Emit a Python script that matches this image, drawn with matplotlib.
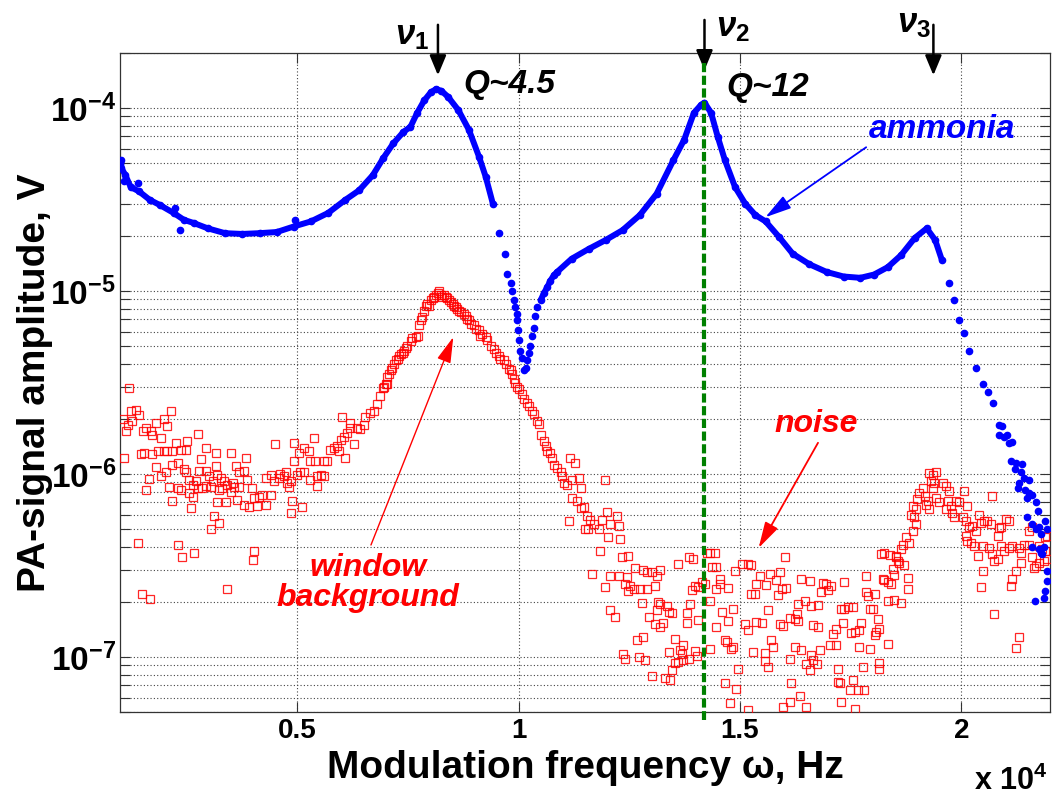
import numpy as np
import matplotlib.pyplot as plt
from matplotlib.ticker import LogLocator, NullFormatter, NullLocator

plt.rcParams["font.family"] = ["Liberation Sans", "DejaVu Sans"]
plt.rcParams["font.weight"] = "bold"
plt.rcParams["mathtext.fontset"] = "custom"
plt.rcParams["mathtext.rm"] = "Liberation Sans:bold"
plt.rcParams["mathtext.it"] = "Liberation Sans:italic:bold"
plt.rcParams["mathtext.bf"] = "Liberation Sans:bold"

# ammonia signal (Hz, V)
ammonia = [
    (1030, 5.2e-5), (1030, 4.7e-5), (1120, 4.3e-5), (1240, 3.7e-5), (1430, 3.5e-5),
    (1670, 3.15e-5), (1900, 2.95e-5), (2210, 2.67e-5), (2440, 2.45e-5), (2670, 2.35e-5),
    (2980, 2.2e-5), (3370, 2.07e-5), (3760, 2.05e-5), (4150, 2.07e-5), (4540, 2.1e-5),
    (4920, 2.25e-5), (5310, 2.4e-5), (5700, 2.67e-5), (6090, 3.15e-5), (6400, 3.55e-5),
    (6710, 4.3e-5), (6940, 5.3e-5), (7170, 6.4e-5), (7400, 7.4e-5), (7560, 7.9e-5),
    (7710, 9.4e-5), (7870, 1.1e-4), (8020, 1.22e-4), (8140, 1.27e-4), (8260, 1.24e-4),
    (8410, 1.15e-4), (8640, 9.75e-5), (8880, 7.6e-5), (9110, 5.4e-5), (9260, 4.2e-5),
    (9420, 3.0e-5), (9570, 2.07e-5), (9690, 1.6e-5), (9740, 1.24e-5), (9820, 1.1e-5),
    (9860, 1.0e-5), (9900, 8.9e-6), (9930, 8.2e-6), (9960, 7.5e-6), (9970, 6.9e-6),
    (9990, 6.1e-6), (10010, 5.4e-6), (10040, 4.7e-6), (10080, 4.3e-6), (10120, 3.7e-6),
    (10160, 3.8e-6), (10200, 4.2e-6), (10230, 4.6e-6), (10270, 5.0e-6), (10310, 5.7e-6),
    (10350, 6.3e-6), (10380, 7.3e-6), (10420, 8.2e-6), (10500, 8.9e-6), (10570, 9.7e-6),
    (10650, 1.05e-5), (10720, 1.14e-5), (10800, 1.22e-5), (10870, 1.27e-5), (11200, 1.5e-5),
    (11590, 1.7e-5), (11970, 1.9e-5), (12350, 2.15e-5), (12740, 2.6e-5), (13120, 3.4e-5),
    (13500, 5.2e-5), (13740, 6.7e-5), (13960, 9.4e-5), (14120, 1.04e-4), (14200, 1.07e-4),
    (14350, 9.4e-5), (14500, 6.95e-5), (14660, 5.2e-5), (14890, 3.7e-5), (15120, 3.0e-5),
    (15350, 2.6e-5), (15580, 2.4e-5), (15880, 1.98e-5), (16190, 1.6e-5), (16570, 1.4e-5),
    (16960, 1.27e-5), (17340, 1.2e-5), (17720, 1.18e-5), (18030, 1.23e-5), (18340, 1.35e-5),
    (18640, 1.57e-5), (18950, 1.95e-5), (19220, 2.2e-5), (19410, 1.9e-5), (19560, 1.48e-5),
    (19720, 1.1e-5), (19830, 8.9e-6), (19950, 6.9e-6), (20060, 5.9e-6), (20180, 4.7e-6),
    (20330, 3.8e-6), (20480, 3.1e-6), (20600, 2.8e-6), (20710, 2.45e-6), (20850, 1.85e-6),
    (20930, 1.84e-6), (20850, 1.64e-6), (20970, 1.6e-6), (21040, 1.64e-6), (21080, 1.47e-6),
    (21150, 1.49e-6), (21120, 1.18e-6), (21230, 1.15e-6), (21360, 1.13e-6), (21210, 1.06e-6),
    (21340, 1.03e-6), (21420, 9.5e-7), (21300, 8.9e-7), (21530, 9.3e-7), (21270, 8.4e-7),
    (21450, 8.2e-7), (21530, 7.9e-7), (21490, 7.4e-7), (21600, 7.7e-7), (21680, 7.0e-7),
    (21740, 6.3e-7), (21490, 5.8e-7), (21600, 5.3e-7), (21900, 5.5e-7), (21750, 5.1e-7),
    (21680, 5.0e-7), (21790, 4.7e-7), (21940, 5.0e-7), (21600, 4.0e-7), (21750, 3.9e-7),
    (21870, 4.0e-7), (21790, 3.7e-7), (21830, 3.65e-7), (21940, 2.96e-7), (21940, 2.6e-7),
    (21900, 2.3e-7), (21870, 2.1e-7), (21660, 2.03e-7),
]
# stray ammonia points off the band
ammonia_stray = [(1085, 4.0e-5), (1395, 3.9e-5), (2250, 2.84e-5), (2360, 2.15e-5), (4960, 2.45e-5)]

# window background / noise (Hz, V)
bg_low = [
    (1210, 2.95e-6), (1060, 2.0e-6), (1130, 1.71e-6), (1170, 1.86e-6), (1250, 2.2e-6),
    (1280, 1.94e-6), (1360, 2.25e-6), (1430, 2.1e-6), (1100, 1.22e-6), (1510, 1.71e-6),
    (1580, 1.78e-6), (1700, 1.71e-6), (1730, 1.64e-6), (1810, 1.9e-6), (1920, 1.57e-6),
    (2000, 2.0e-6), (2070, 1.82e-6), (2150, 2.2e-6), (1470, 1.28e-6), (1550, 1.3e-6),
    (1730, 1.28e-6), (1850, 1.33e-6), (2000, 1.34e-6), (2070, 1.34e-6), (2180, 1.34e-6),
    (2260, 1.48e-6), (2370, 1.35e-6), (2480, 1.36e-6), (2520, 1.52e-6), (2750, 1.66e-6),
    (2940, 1.39e-6), (3160, 1.31e-6), (3500, 1.31e-6), (2820, 1.21e-6), (1810, 1.09e-6),
    (1920, 9.7e-7), (2030, 1.03e-6), (2180, 1.12e-6), (2300, 1.15e-6), (2450, 1.07e-6),
    (2480, 1.02e-6), (2560, 9.3e-7), (2640, 8.7e-7), (2710, 9.1e-7), (2790, 1.04e-6),
    (2940, 1.04e-6), (3010, 9.7e-7), (3090, 9.1e-7), (3160, 1.1e-6), (3200, 9.9e-7),
    (3270, 9.5e-7), (3350, 9.1e-7), (3420, 8.7e-7), (3540, 8.9e-7), (3610, 1.1e-6),
    (3690, 1.03e-6), (3800, 1.04e-6), (3840, 1.23e-6), (3870, 9.3e-7), (3990, 8.4e-7),
    (1660, 9.4e-7), (1580, 8.2e-7), (2110, 8.5e-7), (2300, 8.4e-7), (2370, 8.2e-7),
    (2560, 7.9e-7), (2640, 7.5e-7), (2750, 8.4e-7), (2860, 8.4e-7), (2940, 8.6e-7),
    (3050, 8.5e-7), (3240, 8.2e-7), (3310, 8.4e-7), (3500, 8.0e-7), (3570, 8.5e-7),
    (3690, 8.5e-7), (2180, 7.1e-7), (2600, 6.5e-7), (3200, 7.0e-7), (3390, 7.0e-7),
    (3650, 7.2e-7), (3800, 6.8e-7), (3910, 6.6e-7), (4020, 7.4e-7), (4100, 6.7e-7),
    (4140, 7.5e-7), (4210, 7.7e-7), (4290, 6.8e-7), (4290, 9.5e-7), (4400, 7.7e-7),
    (4400, 9.9e-7), (4470, 9.1e-7), (4590, 9.5e-7), (4620, 1.0e-6), (4700, 9.7e-7),
    (4740, 1.03e-6), (4770, 8.9e-7), (4810, 8.5e-7), (4850, 9.1e-7), (4890, 7.1e-7),
    (4850, 6.1e-7), (5110, 6.6e-7), (4930, 1.17e-6), (5040, 1.3e-6), (5150, 1.39e-6),
    (5260, 1.33e-6), (5300, 1.17e-6), (5410, 1.17e-6), (5380, 1.57e-6), (4510, 1.46e-6),
    (4930, 1.48e-6), (5000, 9.9e-7), (5070, 1.03e-6), (5150, 1.02e-6), (5300, 9.3e-7),
    (5450, 9.7e-7), (5530, 9.9e-7), (5600, 9.7e-7), (5450, 8.6e-7), (5600, 1.17e-6),
    (5680, 1.17e-6), (5750, 1.36e-6), (5830, 1.39e-6), (5900, 1.42e-6), (5940, 1.33e-6),
    (5980, 1.54e-6), (6050, 1.6e-6), (6090, 1.22e-6), (6130, 1.67e-6), (6200, 1.78e-6),
    (6280, 1.45e-6), (6350, 1.78e-6), (6430, 1.75e-6), (6500, 1.86e-6), (6540, 2.06e-6),
    (6650, 2.15e-6), (6730, 2.2e-6), (6800, 2.4e-6), (6880, 2.66e-6), (6950, 2.95e-6),
    (7030, 3.1e-6), (6010, 2.04e-6), (6200, 1.9e-6),
    (3120, 5.9e-7), (3240, 5.4e-7), (3050, 5.0e-7), (1410, 4.2e-7), (2320, 4.1e-7),
    (2410, 3.5e-7), (2660, 3.7e-7), (4020, 3.8e-7), (4010, 3.4e-7), (1490, 2.2e-7),
    (1670, 2.06e-7), (3420, 2.35e-7),
]
bg_peak = [
    (6970, 2.97e-6), (7000, 3.1e-6), (7040, 3.4e-6), (7080, 3.5e-6), (7120, 3.7e-6),
    (7150, 3.8e-6), (7190, 4.0e-6), (7230, 4.2e-6), (7270, 4.25e-6), (7300, 4.4e-6),
    (7340, 4.5e-6), (7380, 4.6e-6), (7420, 4.7e-6), (7450, 4.9e-6), (7490, 5.0e-6),
    (7570, 5.3e-6), (7600, 5.5e-6), (7680, 5.6e-6), (7720, 5.7e-6), (7750, 6.5e-6),
    (7790, 6.9e-6), (7830, 7.2e-6), (7870, 7.8e-6), (7910, 8.3e-6), (7940, 8.5e-6),
    (7980, 8.3e-6), (8020, 8.9e-6), (8060, 9.1e-6), (8090, 9.3e-6), (8130, 9.5e-6),
    (8170, 9.7e-6), (8210, 1.0e-5), (8240, 9.5e-6), (8280, 9.3e-6), (8320, 9.5e-6),
    (8360, 9.3e-6), (8390, 9.1e-6), (8430, 8.9e-6), (8470, 8.7e-6), (8510, 8.5e-6),
    (8540, 8.3e-6), (8580, 8.2e-6), (8620, 8.0e-6), (8660, 7.8e-6), (8690, 7.7e-6),
    (8770, 7.5e-6), (8810, 7.3e-6), (8840, 7.0e-6), (8880, 6.9e-6), (8920, 6.6e-6),
    (8990, 6.5e-6), (9030, 6.2e-6), (9110, 6.1e-6), (9140, 5.7e-6), (9180, 5.8e-6),
    (9260, 5.6e-6), (9290, 5.4e-6), (9370, 5.0e-6), (9440, 4.8e-6), (9480, 4.6e-6),
    (9560, 4.4e-6), (9590, 4.25e-6), (9670, 4.2e-6), (9710, 4.0e-6), (9780, 3.75e-6),
    (9820, 3.7e-6), (9860, 3.5e-6), (9900, 3.3e-6), (9930, 3.15e-6), (9970, 2.97e-6),
    (10010, 2.9e-6), (10080, 2.73e-6), (10120, 2.56e-6), (10200, 2.45e-6), (10230, 2.35e-6),
    (10310, 2.21e-6), (10350, 2.12e-6), (10420, 1.95e-6), (10460, 1.87e-6), (10500, 1.64e-6),
    (10570, 1.51e-6), (10610, 1.42e-6), (10650, 1.33e-6), (10720, 1.3e-6), (10760, 1.22e-6),
    (10800, 1.12e-6), (10870, 1.08e-6), (10950, 1.03e-6), (10980, 9.7e-7), (11020, 8.9e-7),
    (11100, 8.7e-7), (11170, 1.22e-6), (11280, 1.15e-6), (11210, 9.3e-7), (11360, 9.5e-7),
    (11400, 8.4e-7), (11210, 7.4e-7), (11320, 7.1e-7), (11400, 6.5e-7), (11470, 6.6e-7),
    (11550, 5.9e-7), (11620, 5.6e-7), (11700, 5.3e-7), (11510, 5.0e-7), (11580, 5.0e-7),
    (11810, 5.0e-7), (11880, 5.6e-7), (12000, 6.2e-7), (12220, 5.9e-7), (12260, 5.2e-7),
    (12070, 5.3e-7), (12030, 4.5e-7), (12300, 4.4e-7), (11960, 9.3e-7), (11130, 5.5e-7),
    (11850, 3.8e-7), (12330, 3.5e-7), (12480, 3.55e-7),
]
noise_mid = [
    (11660, 2.84e-7), (12070, 2.78e-7), (12260, 2.78e-7), (12450, 2.72e-7), (12640, 3.06e-7),
    (12820, 3.0e-7), (12900, 2.9e-7), (13010, 2.9e-7), (13200, 3.0e-7), (13120, 2.78e-7),
    (13610, 3.24e-7), (13840, 3.52e-7), (13950, 3.43e-7), (14250, 3.7e-7), (14320, 3.7e-7),
    (14440, 3.7e-7), (14360, 3.11e-7), (14470, 3.11e-7), (14550, 2.67e-7), (14890, 2.96e-7),
    (15040, 3.24e-7), (15190, 3.2e-7), (15260, 3.18e-7), (15450, 2.78e-7), (15670, 2.84e-7),
    (15900, 2.9e-7), (15820, 2.63e-7), (16010, 3.5e-7), (16390, 2.67e-7), (16580, 2.61e-7),
    (16880, 2.52e-7), (16950, 2.5e-7), (17060, 2.45e-7), (11960, 2.4e-7), (12410, 2.5e-7),
    (12520, 2.45e-7), (12480, 2.3e-7), (12600, 2.35e-7), (12750, 2.35e-7), (12900, 2.35e-7),
    (13090, 2.45e-7), (13910, 2.32e-7), (13990, 2.45e-7), (14060, 2.4e-7), (14140, 2.56e-7),
    (14210, 2.5e-7), (14470, 2.35e-7), (14550, 2.5e-7), (14740, 2.37e-7), (15260, 2.2e-7),
    (15340, 2.2e-7), (15370, 2.5e-7), (15600, 2.48e-7), (15860, 2.19e-7), (15940, 2.35e-7),
    (16050, 2.37e-7), (16840, 2.25e-7), (16990, 2.32e-7), (12070, 1.81e-7), (12190, 1.66e-7),
    (12780, 1.96e-7), (13160, 2.0e-7), (13200, 1.95e-7), (13350, 1.91e-7), (13390, 1.76e-7),
    (13120, 1.8e-7), (13460, 1.73e-7), (13800, 1.73e-7), (13870, 1.95e-7), (14320, 2.03e-7),
    (14590, 1.76e-7), (14850, 1.82e-7), (15640, 1.8e-7), (16310, 1.95e-7), (16460, 2.03e-7),
    (16610, 1.91e-7), (16760, 1.93e-7), (16280, 1.71e-7), (16310, 1.58e-7), (16130, 1.64e-7),
    (12940, 1.65e-7), (13090, 1.52e-7), (13200, 1.46e-7), (13270, 1.53e-7), (13800, 1.53e-7),
    (14060, 1.6e-7), (14470, 1.46e-7), (14740, 1.58e-7), (15110, 1.51e-7), (15190, 1.4e-7),
    (15370, 1.55e-7), (15490, 1.53e-7), (15900, 1.52e-7), (15970, 1.47e-7), (16240, 1.61e-7),
    (16650, 1.49e-7), (16760, 1.46e-7), (17100, 1.34e-7), (17180, 1.43e-7), (12670, 1.24e-7),
    (12820, 1.29e-7), (13540, 1.26e-7), (13720, 1.16e-7), (14660, 1.24e-7), (14700, 1.21e-7),
    (14810, 1.11e-7), (14850, 1.13e-7), (14320, 1.11e-7), (15710, 1.24e-7), (15750, 1.14e-7),
    (15300, 1.06e-7), (15560, 1.05e-7), (16240, 1.13e-7), (16390, 1.09e-7), (16800, 1.09e-7),
    (17030, 1.16e-7), (17180, 1.16e-7), (12370, 1.04e-7), (12410, 9.8e-8), (12710, 1.0e-7),
    (12860, 9.6e-8), (13390, 1.06e-7), (13650, 1.09e-7), (13690, 1.04e-7), (13720, 9.6e-8),
    (13840, 9.8e-8), (13990, 1.08e-7), (14020, 1.01e-7), (13610, 9.4e-8), (13540, 9.3e-8),
    (15560, 9.5e-8), (15640, 8.8e-8), (16140, 9.8e-8), (16500, 9.2e-8), (16610, 1.03e-7),
    (16650, 9.6e-8), (16730, 9.1e-8), (17210, 8.6e-8), (13460, 8.5e-8), (13010, 7.9e-8),
    (13310, 7.7e-8), (13420, 7.5e-8), (14960, 8.6e-8), (14660, 7.2e-8), (14920, 6.7e-8),
    (16580, 8.5e-8), (16160, 7.2e-8), (17210, 7.3e-8), (14770, 5.6e-8), (15190, 5.1e-8),
    (15970, 5.3e-8), (16130, 5.7e-8), (16350, 6.1e-8), (16500, 5.3e-8),
]
noise_high = [
    (17360, 2.56e-7), (17290, 1.83e-7), (17360, 1.83e-7), (17440, 1.87e-7), (17550, 1.87e-7),
    (17930, 1.83e-7), (18000, 1.83e-7), (17330, 1.53e-7), (17510, 1.35e-7), (17590, 1.37e-7),
    (17700, 1.4e-7), (17740, 1.53e-7), (17700, 1.14e-7), (17930, 1.1e-7), (18110, 1.62e-7),
    (18150, 1.43e-7), (18040, 1.31e-7), (18080, 1.37e-7), (18340, 1.18e-7), (18150, 9.3e-8),
    (18150, 8.6e-8), (17780, 8.8e-8), (17250, 7.2e-8), (17480, 6.6e-8), (17550, 7.5e-8),
    (17660, 6.6e-8), (17810, 6.6e-8), (17290, 5.7e-8), (17610, 5.2e-8), (17850, 2.78e-7),
    (17850, 2.25e-7), (17890, 2.16e-7), (18040, 2.21e-7), (18230, 2.67e-7), (18260, 2.63e-7),
    (18340, 2.56e-7), (18410, 2.5e-7), (18490, 2.81e-7), (18450, 3.02e-7), (18530, 3.5e-7),
    (18560, 3.35e-7), (18600, 3.28e-7), (18710, 3.19e-7), (18790, 2.7e-7), (18790, 2.35e-7),
    (18340, 2.03e-7), (18490, 2.05e-7), (18640, 1.96e-7), (18190, 3.65e-7), (18260, 3.72e-7),
    (18380, 3.6e-7), (18530, 3.57e-7), (18640, 3.88e-7), (18680, 4.1e-7), (18750, 4.5e-7),
    (18830, 4.2e-7), (18900, 4.9e-7), (18980, 5.3e-7), (18940, 5.8e-7), (18860, 6.0e-7),
    (18900, 6.7e-7), (18980, 6.4e-7), (19010, 7.3e-7), (19050, 7.9e-7), (19130, 8.4e-7),
    (19170, 7.6e-7), (19200, 6.8e-7), (19240, 7.1e-7), (19280, 6.4e-7), (19280, 1.01e-6),
    (19320, 9.2e-7), (19350, 9.9e-7), (19350, 8.4e-7), (19390, 8.9e-7), (19430, 1.03e-6),
    (19430, 7.4e-7), (19500, 7.0e-7), (19580, 8.9e-7), (19650, 8.6e-7), (19730, 8.1e-7),
    (19650, 6.4e-7), (19690, 7.1e-7), (19770, 6.7e-7), (19800, 6.1e-7), (19840, 5.8e-7),
    (19880, 7.1e-7), (19950, 7.0e-7), (20030, 5.8e-7), (20060, 8.1e-7), (20100, 5.5e-7),
    (20140, 6.7e-7), (20180, 5.1e-7), (20250, 5.2e-7), (20330, 4.9e-7), (20400, 6.0e-7),
    (20440, 5.4e-7), (20520, 5.5e-7), (20590, 5.5e-7), (20670, 5.3e-7), (20700, 7.6e-7),
    (20820, 4.6e-7), (20850, 5.05e-7), (21000, 5.65e-7), (21080, 5.5e-7), (20890, 5.1e-7),
    (20100, 4.6e-7), (20140, 4.3e-7), (20220, 4.2e-7), (20290, 4.05e-7), (20370, 3.57e-7),
    (20480, 4.05e-7), (20630, 3.96e-7), (20700, 3.65e-7), (20740, 3.35e-7), (20820, 3.42e-7),
    (20890, 4.05e-7), (20970, 3.8e-7), (21080, 3.96e-7), (21150, 4.05e-7), (21300, 3.96e-7),
    (21340, 3.72e-7), (21420, 4.1e-7), (21530, 4.1e-7), (21600, 3.5e-7), (21640, 3.08e-7),
    (21680, 3.15e-7), (21750, 3.28e-7), (21830, 3.88e-7), (21900, 3.8e-7), (21940, 3.42e-7),
    (21900, 4.5e-7), (21940, 4.6e-7), (21600, 5.1e-7), (21530, 4.9e-7), (21340, 3.28e-7),
    (21230, 2.96e-7), (21150, 2.67e-7), (21120, 2.45e-7), (20480, 2.96e-7), (20440, 2.4e-7),
    (20740, 1.72e-7), (21300, 1.29e-7), (21230, 1.12e-7), (21750, 4.05e-7), (21870, 3.35e-7),
]

resonances = [8180, 14200, 19370]          # nu1, nu2, nu3 (Hz)
nu_labels = [r"$\nu_1$", r"$\nu_2$", r"$\nu_3$"]
xtick_vals = [5000, 10000, 15000, 20000]
xtick_labels = ["0.5", "1", "1.5", "2"]
ytick_vals = [1e-7, 1e-6, 1e-5, 1e-4]
ytick_labels = [r"$10^{-7}$", r"$10^{-6}$", r"$10^{-5}$", r"$10^{-4}$"]

am_f, am_a = np.array(ammonia).T
st_f, st_a = np.array(ammonia_stray).T
bg_f, bg_a = np.array(bg_low + bg_peak + noise_mid + noise_high).T

fig = plt.figure(figsize=(10.53, 7.95), dpi=100)
ax = fig.add_axes([0.114, 0.1044, 0.883, 0.829])
ax.set_yscale("log")
ax.set_xlim(1000, 22000)
ax.set_ylim(5e-8, 2e-4)

# red open squares
ax.plot(bg_f, bg_a, "s", ms=6.3, mfc="none", mec="red", mew=0.9, alpha=0.85, ls="none", zorder=3)

# blue dots, dense parts drawn as a band
for m in [am_f < 9500, (am_f > 10450) & (am_f < 19650)]:
    ax.plot(am_f[m], am_a[m], "-", color="blue", lw=4.3, solid_capstyle="round", zorder=4)
ax.plot(am_f, am_a, "o", ms=4.5, color="blue", ls="none", zorder=4)
ax.plot(st_f, st_a, "o", ms=4.5, color="blue", ls="none", zorder=4)

# green dashed line at nu2
ax.plot([resonances[1], resonances[1]], [1.76e-4, 4.5e-8], color="#008000", lw=3.0,
        ls=(0, (2.2, 0.85)), clip_on=False, zorder=5)

# resonance arrows + labels
arrow_tops = [2.85e-4, 3.03e-4, 2.85e-4]
arrow_tips = [1.51e-4, 1.61e-4, 1.51e-4]
label_pos = [(7600, 2.5e-4), (14840, 2.74e-4), (18920, 2.91e-4)]
for x, top, tip, lab, (lx, ly) in zip(resonances, arrow_tops, arrow_tips, nu_labels, label_pos):
    ax.annotate("", xy=(x, tip), xytext=(x, top), annotation_clip=False,
                arrowprops=dict(arrowstyle="-|>,head_length=0.6,head_width=0.25",
                                color="black", lw=1.8, mutation_scale=20, shrinkA=0, shrinkB=0))
    ax.text(lx, ly, lab, fontsize=25, ha="center", va="center", color="black")

ax.text(8760, 1.34e-4, "Q~4.5", fontsize=24, style="italic", weight="bold", va="center")
ax.text(14693, 1.29e-4, "Q~12", fontsize=24, style="italic", weight="bold", va="center")

ax.annotate("ammonia", xy=(15575, 2.53e-5), xytext=(17914, 7.6e-5), color="blue",
            fontsize=24, style="italic", weight="bold", va="center", ha="left",
            arrowprops=dict(arrowstyle="-|>,head_length=0.8,head_width=0.22", color="blue",
                            lw=1.3, mutation_scale=20, shrinkA=0, shrinkB=0,
                            relpos=(0.0, 0.0)))
ax.annotate("", xy=(15422, 3.94e-7), xytext=(16764, 1.48e-6),
            arrowprops=dict(arrowstyle="-|>,head_length=0.8,head_width=0.22", color="red",
                            lw=1.3, mutation_scale=20, shrinkA=0, shrinkB=0))
ax.text(16725, 1.87e-6, "noise", color="red", fontsize=23, style="italic", weight="bold",
        ha="center", va="center")
ax.annotate("", xy=(8527, 5.6e-6), xytext=(6667, 4.09e-7),
            arrowprops=dict(arrowstyle="-|>,head_length=0.8,head_width=0.22", color="red",
                            lw=1.0, mutation_scale=20, shrinkA=0, shrinkB=0))
ax.text(6600, 2.54e-7, "window\nbackground", color="red", fontsize=23, style="italic",
        weight="bold", ha="center", va="center", linespacing=1.0)

# axes styling (MATLAB look)
ax.set_xticks(xtick_vals)
ax.set_xticklabels(xtick_labels)
ax.xaxis.set_minor_locator(NullLocator())
ax.set_yticks(ytick_vals)
ax.set_yticklabels(ytick_labels)
ax.yaxis.set_minor_locator(LogLocator(base=10, subs=range(2, 10)))
ax.yaxis.set_minor_formatter(NullFormatter())
ax.tick_params(which="both", direction="in", top=True, right=True, length=7, width=0.8,
               colors="#333333", labelcolor="black")
ax.tick_params(axis="x", labelsize=20, pad=4)
ax.tick_params(axis="y", labelsize=24, pad=3)
ax.grid(True, which="major", ls=(0, (1, 2.0)), color="#444444", lw=0.8)
ax.grid(True, which="minor", axis="y", ls=(0, (1, 2.0)), color="#444444", lw=0.8)
for s in ax.spines.values():
    s.set_color("#333333")
    s.set_linewidth(0.9)

ax.set_xlabel("Modulation frequency ω, Hz", fontsize=28, weight="bold")
ax.xaxis.set_label_coords(0.5, -0.058)
ax.set_ylabel("PA-signal amplitude, V", fontsize=28, weight="bold")
ax.yaxis.set_label_coords(-0.072, 0.5)
fig.text(0.995, 0.0063, r"x 10$^{4}$", fontsize=22, ha="right", va="baseline")

fig.savefig("out.png", dpi=100)
